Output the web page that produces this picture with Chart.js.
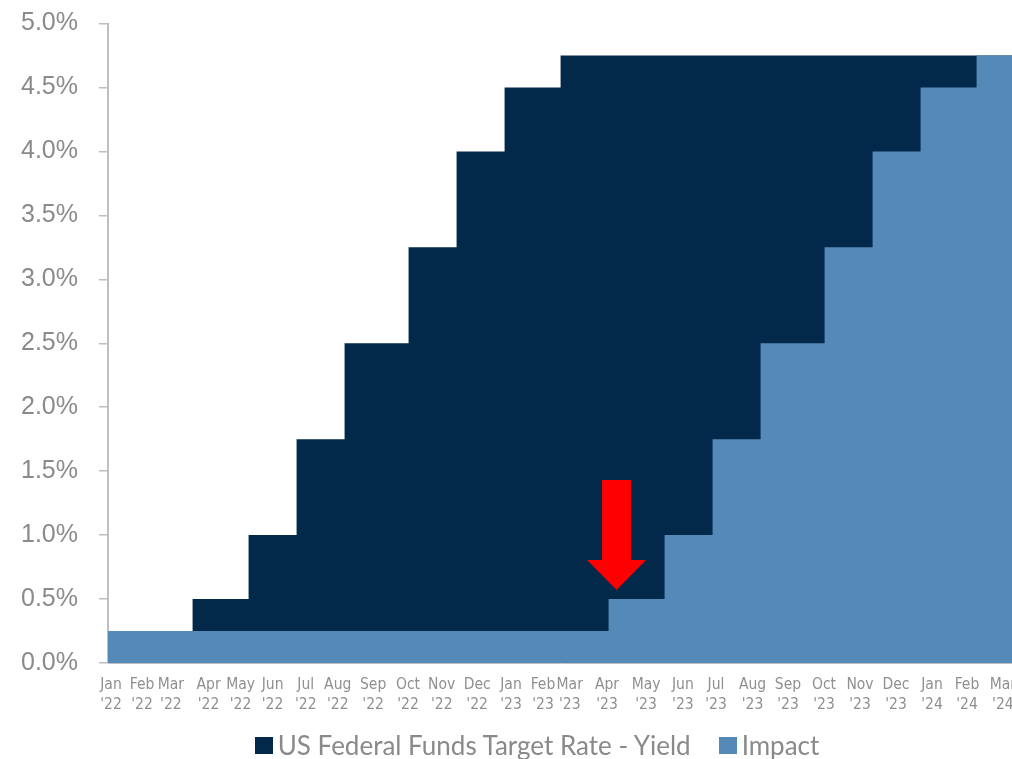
<!DOCTYPE html>
<html>
<head>
<meta charset="utf-8">
<script src="https://cdn.jsdelivr.net/npm/chart.js"></script>
<style>
  body { margin: 0; background: #fff; }
  #wrap { position: relative; width: 1012px; height: 759px; }
  #legend {
    position: absolute; left: 0; top: 730px; width: 1012px; height: 30px;
    box-sizing: border-box; padding-left: 62px;
    display: flex; justify-content: center; align-items: center;
    font-family: Lato, sans-serif; font-size: 26px; color: #8a8a8a; line-height: 30px;
  }
  #legend .item { display: flex; align-items: center; margin: 0 14px; }
  #legend .box { width: 18px; height: 17px; margin-right: 5px; }
</style>
</head>
<body>
<div id="wrap">
  <canvas id="chart" width="1012" height="759"></canvas>
  <div id="legend"></div>
</div>
<script>
// step change dates and rates (upper bound, %)
var rateDates = ['2022-01-01', '2022-03-16', '2022-05-04', '2022-06-15', '2022-07-27', '2022-09-21', '2022-11-02', '2022-12-14', '2023-02-01', '2024-03-02'];
var rateValues = [0.25, 0.5, 1.0, 1.75, 2.5, 3.25, 4.0, 4.5, 4.75, 4.75];

// impact = same moves, one year later
var impactDates = ['2022-01-01', '2023-03-15', '2023-05-03', '2023-06-14', '2023-07-26', '2023-09-20', '2023-11-01', '2023-12-13', '2024-01-31', '2024-03-02'];
var impactValues = [0.25, 0.5, 1.0, 1.75, 2.5, 3.25, 4.0, 4.5, 4.75, 4.75];

// axis tick labels, and where they sit (days from 1 Jan 2022)
var tickMonths = ['Jan', 'Feb', 'Mar', 'Apr', 'May', 'Jun', 'Jul', 'Aug', 'Sep', 'Oct', 'Nov', 'Dec',
                  'Jan', 'Feb', 'Mar', 'Apr', 'May', 'Jun', 'Jul', 'Aug', 'Sep', 'Oct', 'Nov', 'Dec',
                  'Jan', 'Feb', 'Mar'];
var tickYears = ["'22", "'22", "'22", "'22", "'22", "'22", "'22", "'22", "'22", "'22", "'22", "'22",
                 "'23", "'23", "'23", "'23", "'23", "'23", "'23", "'23", "'23", "'23", "'23", "'23",
                 "'24", "'24", "'24"];
var tickDays = [2.6, 29.8, 55, 88, 116, 144, 173, 201, 232, 262.5, 292, 323,
                352.6, 380.6, 404, 436.6, 470.8, 503, 532, 564, 595, 626.5, 658, 689.5,
                721, 751.6, 783];

var startDate = '2022-01-01';
var endDate = '2024-03-02';

// red arrow annotation
var arrowDate = '2023-03-22';
var arrowFrom = 1.43;
var arrowTo = 0.57;

var seriesNames = ['US Federal Funds Target Rate - Yield', 'Impact'];
var seriesColors = ['#02294a', '#5589b7'];

function dayOf(s) {
    var p = s.split('-'), q = startDate.split('-');
    return (Date.UTC(+p[0], p[1] - 1, +p[2]) - Date.UTC(+q[0], q[1] - 1, +q[2])) / 86400000;
}

function toPoints(dates, values) {
    return dates.map(function (d, i) { return { x: dayOf(d), y: values[i] }; });
}

// draws the red arrow using the chart's scales
var arrowPlugin = {
    id: 'arrow',
    afterDatasetsDraw: function (chart) {
        var ctx = chart.ctx;
        var x = chart.scales.x.getPixelForValue(dayOf(arrowDate));
        var yTop = chart.scales.y.getPixelForValue(arrowFrom);
        var yTip = chart.scales.y.getPixelForValue(arrowTo);
        var shaft = 14.5, head = 29.5, headLen = 30;
        ctx.save();
        ctx.fillStyle = '#ff0000';
        ctx.beginPath();
        ctx.moveTo(x - shaft, yTop);
        ctx.lineTo(x + shaft, yTop);
        ctx.lineTo(x + shaft, yTip - headLen);
        ctx.lineTo(x + head, yTip - headLen);
        ctx.lineTo(x, yTip);
        ctx.lineTo(x - head, yTip - headLen);
        ctx.lineTo(x - shaft, yTip - headLen);
        ctx.closePath();
        ctx.fill();
        ctx.restore();
    }
};

new Chart(document.getElementById('chart'), {
    type: 'line',
    data: {
        datasets: [{
            label: seriesNames[0],
            data: toPoints(rateDates, rateValues),
            stepped: true,
            fill: 'origin',
            backgroundColor: seriesColors[0],
            borderWidth: 0,
            pointRadius: 0,
            order: 2
        }, {
            label: seriesNames[1],
            data: toPoints(impactDates, impactValues),
            stepped: true,
            fill: 'origin',
            backgroundColor: seriesColors[1],
            borderWidth: 0,
            pointRadius: 0,
            order: 1
        }]
    },
    options: {
        responsive: false,
        animation: false,
        devicePixelRatio: 1,
        layout: { padding: { top: 23.5, right: 0, bottom: 0, left: 0 } },
        plugins: {
            legend: { display: false },
            tooltip: { enabled: false }
        },
        scales: {
            x: {
                type: 'linear',
                min: 0,
                max: dayOf(endDate),
                grid: { display: false, drawTicks: false },
                border: { display: true, color: '#bfbfbf' },
                afterBuildTicks: function (s) {
                    s.ticks = tickDays.map(function (v) { return { value: v }; });
                },
                afterFit: function (s) {
                    s.paddingLeft = 0;
                    s.paddingRight = 0;
                    s.height = 96;
                },
                ticks: {
                    autoSkip: false,
                    maxRotation: 0,
                    minRotation: 0,
                    padding: 12,
                    color: '#8f8f8f',
                    font: { family: "'Liberation Sans Narrow', 'DejaVu Sans Condensed', sans-serif", size: 15.5, lineHeight: 1.3 },
                    callback: function (v, i) { return [tickMonths[i], tickYears[i]]; }
                }
            },
            y: {
                min: 0,
                max: 5,
                grid: { drawOnChartArea: false, drawTicks: true, tickLength: 9, color: '#bfbfbf', lineWidth: 1.5 },
                border: { display: true, color: '#bfbfbf', width: 2 },
                afterFit: function (s) {
                    s.width = 108;
                    s.paddingTop = 0;
                    s.paddingBottom = 0;
                },
                ticks: {
                    stepSize: 0.5,
                    padding: 21,
                    color: '#8a8a8a',
                    font: { family: "'Liberation Sans', Arial, sans-serif", size: 25 },
                    callback: function (v) { return v.toFixed(1) + '%'; }
                }
            }
        }
    },
    plugins: [arrowPlugin]
});

// legend as plain html under the chart
var legend = document.getElementById('legend');
seriesNames.forEach(function (name, i) {
    var item = document.createElement('span');
    item.className = 'item';
    item.innerHTML = '<span class="box" style="background:' + seriesColors[i] + '"></span>' + name;
    legend.appendChild(item);
});
</script>
</body>
</html>
